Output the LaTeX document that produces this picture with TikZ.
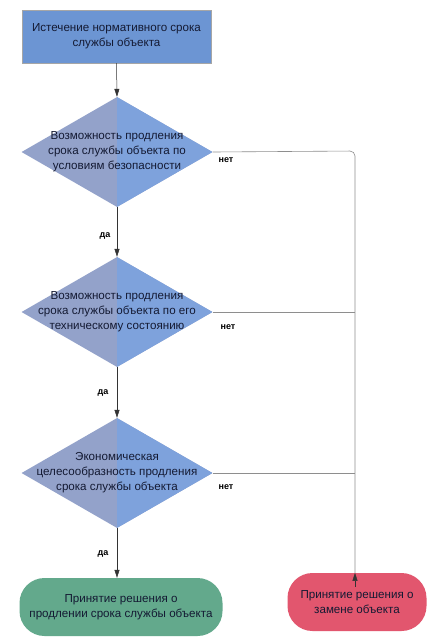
\documentclass[tikz,border=0pt]{standalone}
\usepackage{fontspec}
\setmainfont{Liberation Sans}
\usetikzlibrary{shapes.geometric,arrows.meta}
\definecolor{boxblue}{HTML}{6C95D3}
\definecolor{dleft}{HTML}{93A2CA}
\definecolor{dright}{HTML}{7EA2DC}
\definecolor{gleft}{HTML}{63A98C}
\definecolor{gright}{HTML}{58A886}
\definecolor{rfill}{HTML}{E2566E}
\definecolor{linegray}{HTML}{8E8E8E}
\definecolor{txt}{HTML}{141A33}
\tikzset{
  every node/.style={font=\fontsize{11.6}{15}\selectfont, text=txt},
  startbox/.style={rectangle, draw=gray!70, fill=boxblue, minimum width=189pt, minimum height=53pt, inner sep=0pt},
  decision/.style={diamond, draw=none, fill=dleft, minimum width=191pt, minimum height=110pt, inner sep=0pt,
    path picture={\fill[dright] (path picture bounding box.north) rectangle (path picture bounding box.south east);}},
  dtext/.style={align=center, inner sep=0pt},
  endgreen/.style={rectangle, rounded corners=25pt, draw=none, fill=gleft, minimum width=203pt, minimum height=58pt, align=center, inner sep=0pt},
  endred/.style={rectangle, rounded corners=25pt, draw=none, fill=rfill, minimum width=139pt, minimum height=58pt, align=center, inner sep=0pt},
  flow/.style={draw=black!80, line width=0.5pt, -{Triangle[length=8pt,width=5pt]}},
  side/.style={draw=linegray, line width=0.6pt},
  lbl/.style={font=\bfseries\fontsize{9}{10}\selectfont, inner sep=0pt, text=black},
}
\begin{document}
\begin{tikzpicture}[x=1pt,y=-1pt]
\useasboundingbox (0,0) rectangle (436,641);
\fill[white] (0,0) rectangle (436,641);
\node[startbox, align=center] (s) at (116.5,36.5) {Истечение нормативного срока\\службы объекта};
\node[decision] (d1) at (117,152) {};
\node[dtext] (t1) at (d1.center) {Возможность продления\\срока службы объекта по\\условиям безопасности};
\node[decision] (d2) at (117,312) {};
\node[dtext] (t2) at (d2.center) {Возможность продления\\срока службы объекта по его\\техническому состоянию};
\node[decision] (d3) at (117,473) {};
\node[dtext] (t3) at (d3.center) {Экономическая\\целесообразность продления\\срока службы объекта};
\node[endgreen] (g) at (121,607) {Принятие решения о\\продлении срока службы объекта};
\node[endred] (r) at (357,602) {Принятие решения о\\замене объекта};
\coordinate (c1) at (355,151);
\draw[flow] (s.south) -- (d1.north);
\draw[flow] (d1.south) -- (d2.north);
\draw[flow] (d2.south) -- (d3.north);
\draw[flow] (d3.south) -- (d3.south |- g.north);
\draw[side, rounded corners=5pt] (d1.east) -- (c1) -- (c1 |- r.north);
\draw[flow] ([yshift=-14pt]c1 |- r.north) -- (c1 |- r.north);
\draw[side] (d2.east) -- (d2.east -| c1);
\draw[side] (d3.east) -- (d3.east -| c1);
\node[lbl] (n1) at (226,160) {нет};
\node[lbl] (n2) at (228,327) {нет};
\node[lbl] (n3) at (226,487) {нет};
\node[lbl] (y1) at (105,236) {да};
\node[lbl] (y2) at (103,393) {да};
\node[lbl] (y3) at (103,554) {да};
\end{tikzpicture}
\end{document}
